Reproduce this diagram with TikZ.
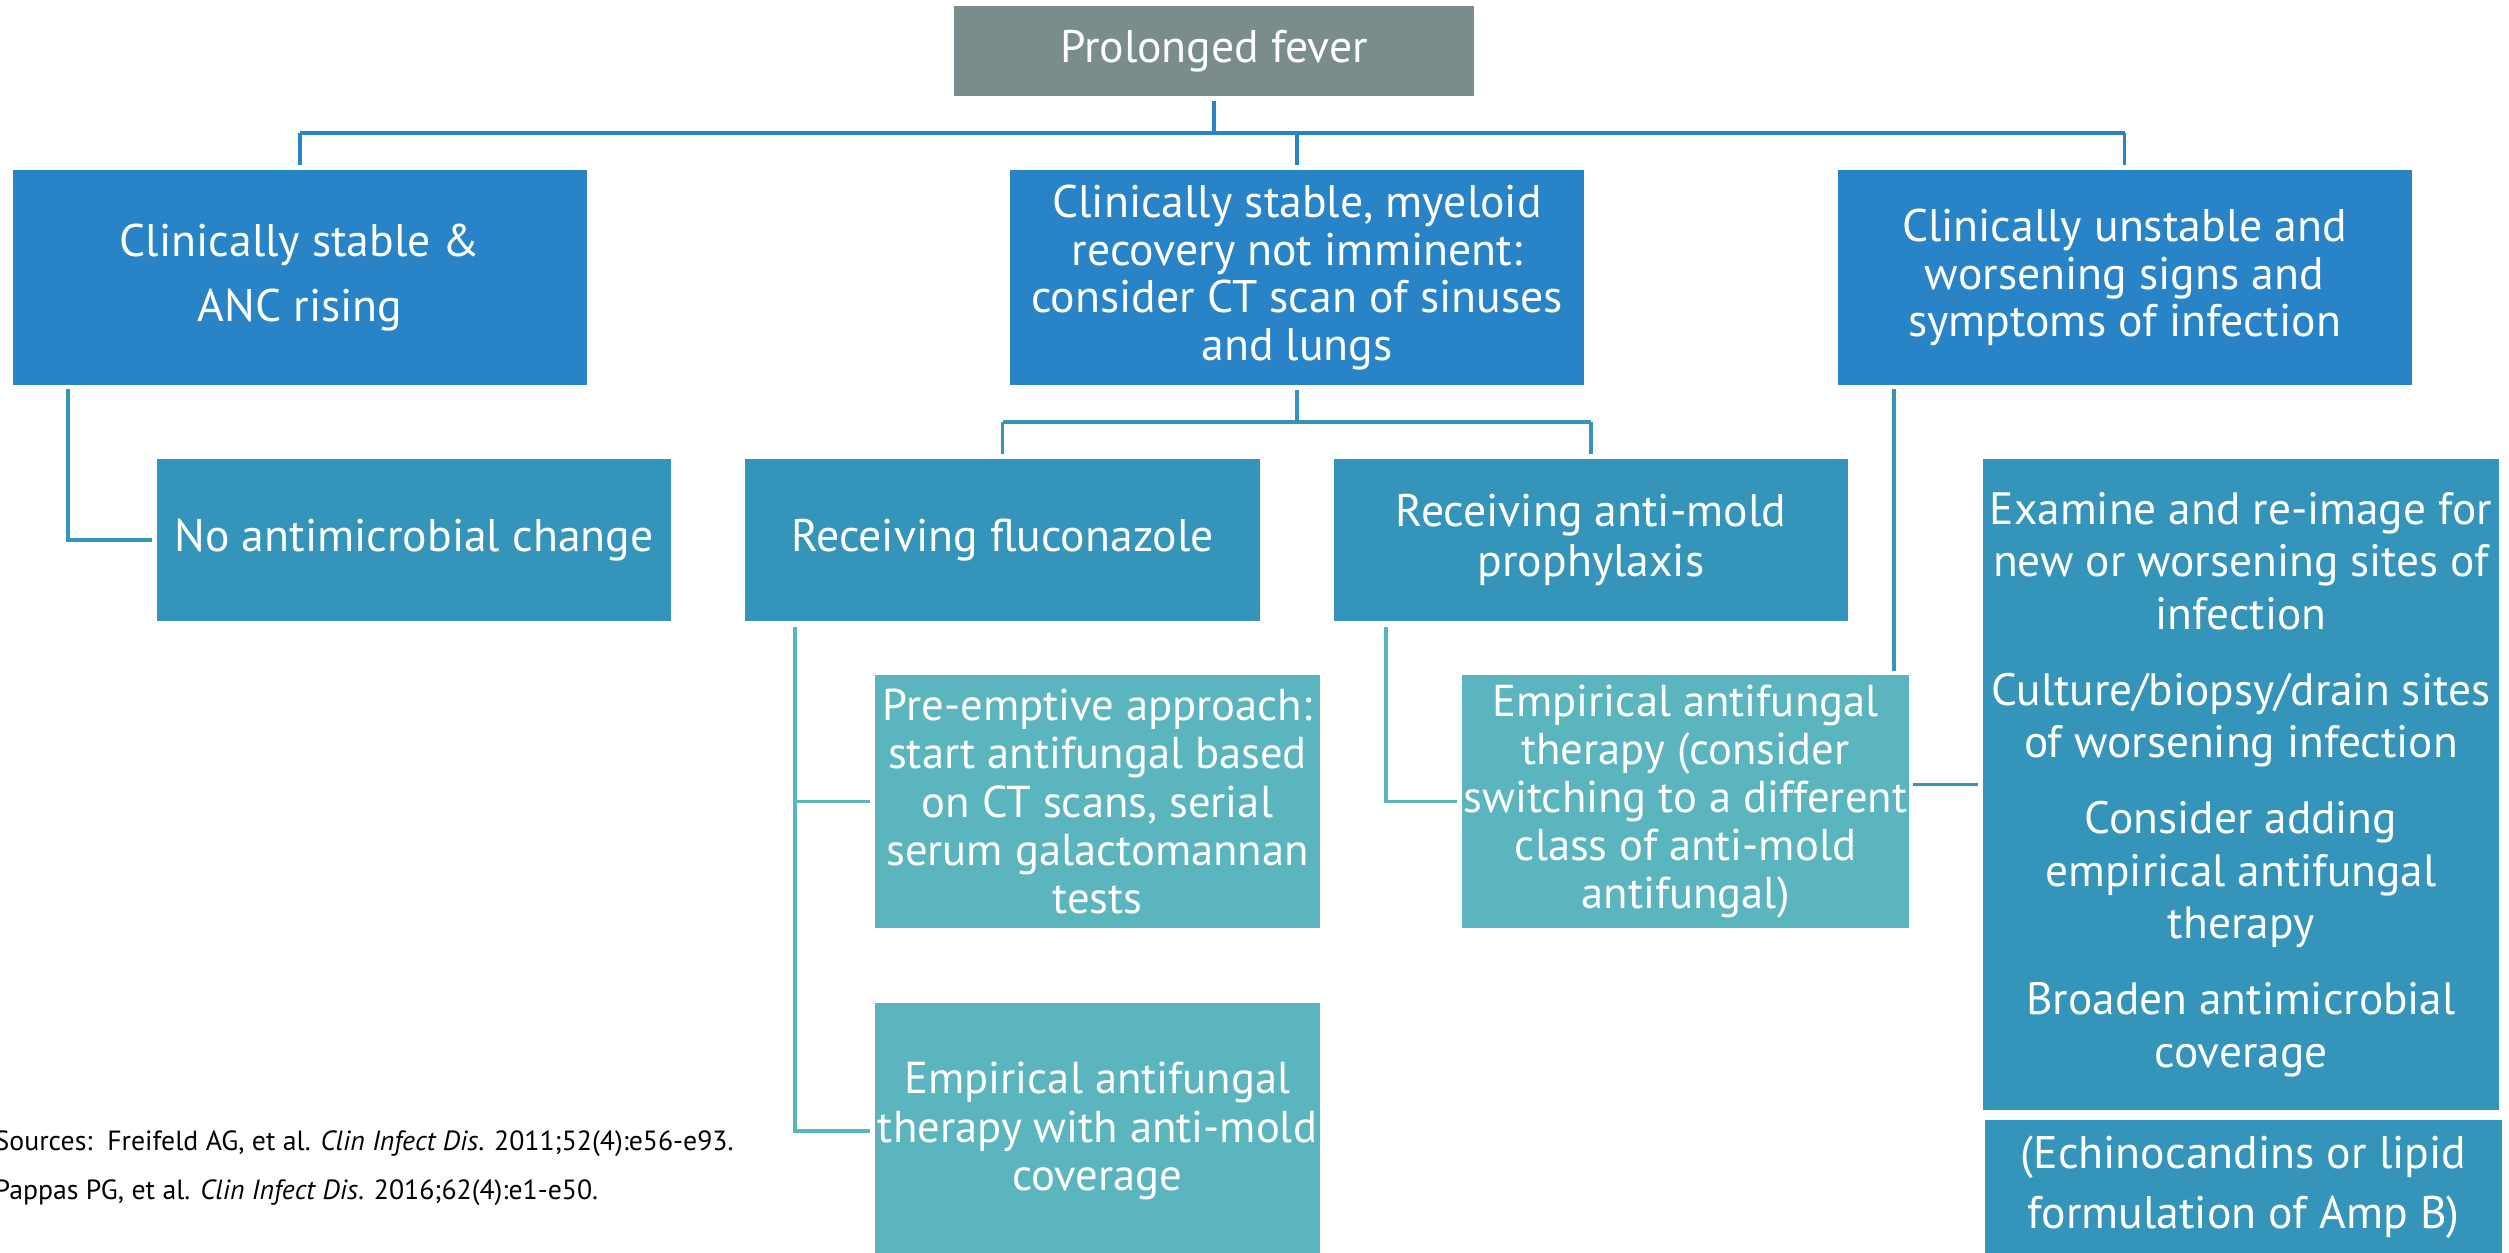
\documentclass[tikz,border=0pt]{standalone}
\usepackage{fontspec}
\setmainfont{PT Sans}
\definecolor{rootgray}{HTML}{7B8C8D}
\definecolor{blueA}{HTML}{2884C6}
\definecolor{blueB}{HTML}{3594BA}
\definecolor{tealC}{HTML}{5BB5BF}
\tikzset{
  box/.style={rectangle, text=white, align=center, inner sep=0pt,
    font=\fontsize{13}{15.5}\selectfont},
  rootbox/.style={box, fill=rootgray, minimum width=5.2cm, minimum height=0.9cm},
  topbox/.style={box, fill=blueA, minimum width=5.74cm, minimum height=2.15cm},
  midbox/.style={box, fill=blueB, minimum width=5.14cm, minimum height=1.62cm},
  lowbox/.style={box, fill=tealC, minimum width=4.45cm, minimum height=2.53cm},
  link/.style={line width=0.9pt},
  srctext/.style={anchor=base west, inner sep=0pt, font=\fontsize{7.9}{9}\selectfont},
}
\begin{document}
\begin{tikzpicture}
  \useasboundingbox (0,0) rectangle (25.09,-12.52);
  % top level
  \node[rootbox] (fever) at (12.14,-0.51) {Prolonged fever};
  \node[topbox, font=\fontsize{13}{18.5}\selectfont] (stable) at (3.00,-2.775)
    {Clinically stable \&\\ANC rising};
  \node[topbox, font=\fontsize{13}{13.5}\selectfont] (myeloid) at (12.97,-2.775)
    {Clinically stable, myeloid\\recovery not imminent:\\consider CT scan of sinuses\\and lungs};
  \node[topbox, font=\fontsize{13}{13.5}\selectfont] (unstable) at (21.245,-2.775)
    {Clinically unstable and\\worsening signs and\\symptoms of infection};
  % second level
  \node[midbox] (nochange) at (4.14,-5.40) {No antimicrobial change};
  \node[midbox, minimum width=5.15cm] (fluco) at (10.025,-5.40) {Receiving fluconazole};
  \node[midbox, font=\fontsize{13}{14.5}\selectfont] (antimold) at (15.91,-5.40)
    {Receiving anti-mold\\prophylaxis};
  \node[midbox, minimum width=5.16cm, minimum height=6.51cm,
    font=\fontsize{12.9}{15}\selectfont] (worsen) at (22.41,-7.845)
    {Examine and re-image for\\new or worsening sites of\\infection\\[6.5pt]
     Culture/biopsy/drain sites\\of worsening infection\\[6.5pt]
     Consider adding\\empirical antifungal\\therapy\\[6.5pt]
     Broaden antimicrobial\\coverage};
  \node[midbox, minimum width=5.17cm, minimum height=1.34cm,
    font=\fontsize{13}{17}\selectfont] (echino) at (22.435,-11.87)
    {(Echinocandins or lipid\\formulation of Amp B)};
  % third level
  \node[lowbox, font=\fontsize{12.7}{13.7}\selectfont] (preempt) at (10.975,-8.015)
    {Pre-emptive approach:\\start antifungal based\\on CT scans, serial\\serum galactomannan\\tests};
  \node[lowbox, minimum height=2.56cm, font=\fontsize{12.7}{13.7}\selectfont] (empmold) at (10.975,-11.31)
    {Empirical antifungal\\therapy with anti-mold\\coverage};
  \node[lowbox, minimum width=4.47cm, font=\fontsize{12.7}{13.7}\selectfont] (switch) at (16.855,-8.015)
    {Empirical antifungal\\therapy (consider\\switching to a different\\class of anti-mold\\antifungal)};
  % sources
  \node[srctext] (src1) at (-0.06,-11.50)
    {Sources:\ \ Freifeld AG, et al. \textit{Clin Infect Dis}. 2011;52(4):e56-e93.};
  \node[srctext] (src2) at (-0.06,-11.99)
    {Pappas PG, et al. \textit{Clin Infect Dis}. 2016;62(4):e1-e50.};
  % connectors
  \coordinate (bus) at (12.14,-1.33);
  \coordinate (midbus) at (12.97,-4.22);
  \coordinate (atap) at (0.68,-3.89);
  \coordinate (etap) at (7.95,-6.27);
  \coordinate (ftap) at (13.86,-6.27);
  \coordinate (ctap) at (18.94,-3.89);
  \begin{scope}[link, blueA]
    \draw ([yshift=-0.04cm]fever.south) -- (bus);
    \draw[line width=1.2pt] (bus -| stable.north) -- (bus -| unstable.north);
    \draw (bus -| stable.north) -- ([yshift=0.04cm]stable.north);
    \draw (bus -| myeloid.north) -- ([yshift=0.04cm]myeloid.north);
    \draw (bus -| unstable.north) -- ([yshift=0.04cm]unstable.north);
  \end{scope}
  \begin{scope}[link, blueB]
    \draw (atap) |- ([xshift=-0.04cm]nochange.west);
    \draw ([yshift=-0.04cm]myeloid.south) -- (midbus);
    \draw (midbus -| fluco.north) -- (midbus -| antimold.north);
    \draw (midbus -| fluco.north) -- ([yshift=0.04cm]fluco.north);
    \draw (midbus -| antimold.north) -- ([yshift=0.04cm]antimold.north);
    \draw (ctap) -- ([yshift=0.03cm]ctap |- switch.north);
    \draw ([xshift=0.03cm]switch.east |- worsen.west) -- ([xshift=-0.04cm]worsen.west);
  \end{scope}
  \begin{scope}[link, tealC]
    \draw (etap) |- ([xshift=-0.04cm]preempt.west);
    \draw (etap) |- ([xshift=-0.04cm]empmold.west);
    \draw (ftap) |- ([xshift=-0.04cm]switch.west);
  \end{scope}
\end{tikzpicture}
\end{document}
